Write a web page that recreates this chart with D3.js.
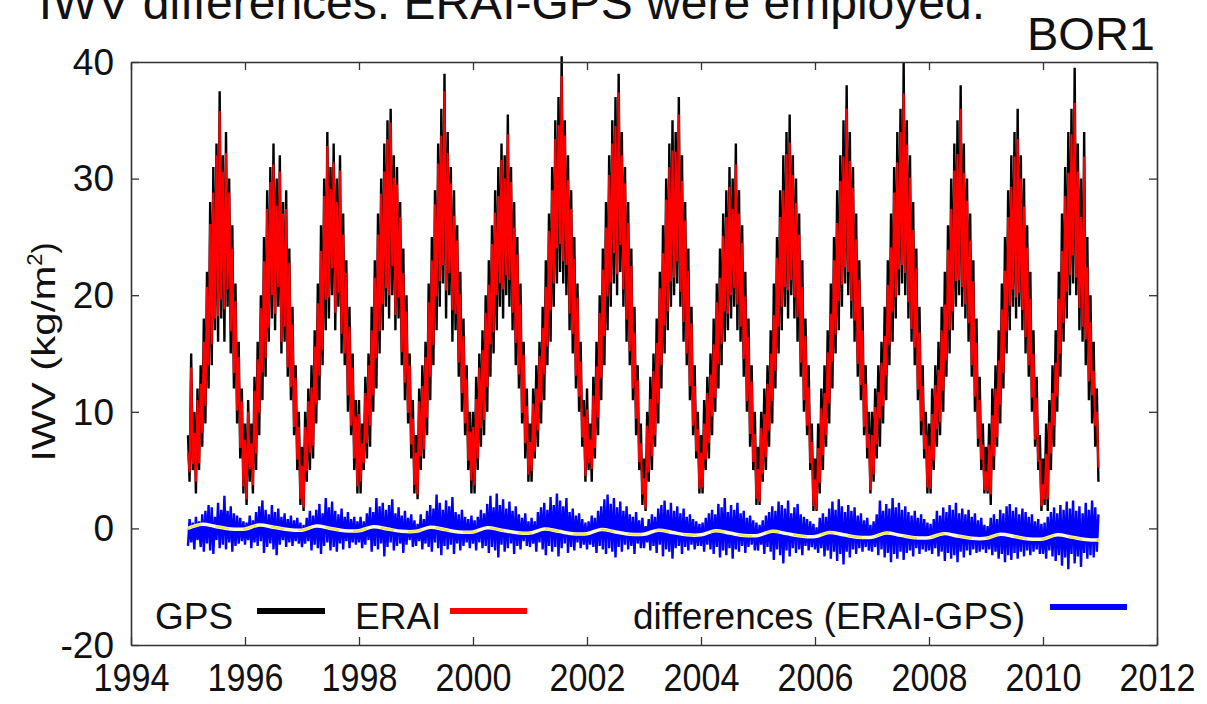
<!DOCTYPE html>
<html><head><meta charset="utf-8">
<script src="https://cdn.jsdelivr.net/npm/d3@7"></script>
<style>html,body{margin:0;padding:0;background:#fff;} text{font-family:"Liberation Sans",Arial,sans-serif;}</style>
</head><body>
<svg id="c" width="1207" height="704"></svg>
<script>
// ---- data ----
const startYear = 1995;
const samplesPerYear = 36; // ~10-day samples
const xTickYears = [1994,1996,1998,2000,2002,2004,2006,2008,2010,2012];
const yTickValues = [-10,0,10,20,30,40];
const yTickLabels = ["-20","0","10","20","30","40"];
const legendLabels = ["GPS","ERAI","differences (ERAI-GPS)"];

const gpsIWV = [
 8,4,15,5,10,3,12,5,14,7,18,9,22,12,28,14,31,17,33,16,37.5,18,32,16,34,19,30,15,26,12,21,9,16,6,12,3,
 9,2,11,4,9,3,13,5,16,8,20,11,25,13,29,16,31,18,33,17,30,19,32,15,28,16,29,13,24,11,19,8,14,5,10,2,
 7,1.5,10,4,12,5,14,6,17,9,21,11,26,14,30,17,34,18,31,20,33,17,30,19,32,15,27,14,23,10,19,8,15,5,11,3,
 11,3,9,5,13,6,15,7,19,10,23,12,27,15,30,17,33,19,35,18,36,20,32,17,31,18,28,14,24,11,20,9,15,6,11,3,
 8,2.5,12,5,14,6,16,8,21,11,25,14,29,17,33,19,36,21,39,18,34,20,31,16,29,17,26,13,22,10,18,8,14,5,10,3,
 10,3,13,5,15,7,17,8,20,10,23,13,26,15,29,17,31,19,33,18,32,20,35.5,19,31,17,28,14,25,12,21,9,16,6,12,4,
 9,4,12,6,14,7,16,9,19,11,23,14,27,16,31,19,35,21,37,22,40.5,21,35,20,32,17,29,15,25,12,21,10,16,7,11,4,
 12,5,9,4,13,6,16,8,20,11,24,14,28,17,32,19,35,21,37,20,39,22,34,19,31,16,28,14,24,11,19,8,14,5,9,2,
 6,1.5,10,4,13,5,15,7,18,9,22,12,26,15,30,17,33,19,35,20,34,21,37,19,32,16,28,14,24,11,19,8,14,6,10,3,
 8,3,11,5,13,6,15,8,18,10,21,12,24,14,27,16,29,17,31,18,30,19,33,17,29,16,26,13,22,10,18,7,14,5,10,2,
 7,2,10,4,12,5,14,7,17,9,21,12,25,15,29,17,32,19,34,18,35.5,20,32,18,30,16,27,13,23,10,18,8,14,5,9,1.5,
 6,1.5,9,3,12,5,14,7,17,9,21,12,25,15,29,17,32,19,35,21,38,20,34,18,31,16,27,13,23,11,19,8,14,6,10,3,
 10,4,12,6,14,7,16,9,19,11,23,14,27,16,31,18,34,20,36,21,40,20,35,18,32,16,28,14,24,11,19,8,14,6,10,3,
 9,3,12,5,14,7,16,8,19,10,22,13,26,15,30,17,33,19,35,20,38,19,33,18,30,16,27,13,23,10,18,7,13,5,9,3,
 7,3,9,2,12,5,14,7,17,9,21,12,25,15,29,17,32,19,34,18,36,19,32,17,30,15,26,13,22,10,17,7,13,5,8,1.5,
 6,2,9,1.5,11,5,14,7,17,10,22,13,27,16,31,18,34,20,36,21,39.5,20,33,17,30,16,34,14,25,11,20,9,16,7,12,4
];

const diffIWV = [
 -1.5,0.8,-1.2,0.5,-1.8,1.0,-1.0,0.6,-1.6,1.2,-2.0,1.5,-1.3,2.0,-1.9,1.8,-2.2,1.0,-1.0,2.2,-1.7,1.6,-1.4,2.8,-1.8,1.5,-1.2,1.9,-2.0,1.3,-1.5,1.1,-1.3,0.9,-1.1,0.6,
 -1.4,0.5,-1.0,1.1,-1.7,0.7,-1.2,1.4,-1.5,1.9,-1.1,2.4,-2.1,1.6,-1.6,1.2,-1.3,2.0,-1.8,1.4,-2.3,1.7,-1.4,1.0,-1.0,1.3,-1.6,0.8,-1.2,1.1,-1.5,0.7,-1.1,0.9,-1.3,0.5,
 -1.6,0.3,-1.3,0.9,-1.1,1.5,-1.9,1.1,-1.4,1.6,-1.7,2.1,-2.2,1.3,-1.5,2.6,-1.2,1.8,-1.9,2.3,-1.6,1.5,-2.0,1.2,-1.3,1.7,-1.8,1.0,-1.1,1.4,-1.7,0.8,-1.2,1.0,-1.4,0.6,
 -1.2,1.0,-1.7,0.6,-1.4,1.3,-1.0,1.8,-2.0,1.4,-1.5,2.6,-1.8,1.9,-1.3,2.2,-2.4,1.6,-1.6,2.0,-1.2,2.5,-1.9,1.3,-1.5,1.8,-1.3,1.1,-2.1,1.5,-1.4,0.9,-1.0,1.2,-1.6,0.7,
 -1.5,0.4,-1.1,1.2,-1.8,0.8,-1.3,1.5,-1.6,2.0,-2.0,1.7,-1.2,2.9,-1.7,2.2,-2.3,1.6,-1.5,2.4,-1.8,1.9,-1.4,2.7,-2.2,1.4,-1.3,1.2,-1.9,1.6,-1.5,1.0,-1.2,0.8,-1.7,1.1,
 -1.3,0.7,-1.9,1.0,-1.2,1.6,-1.7,1.3,-1.5,2.1,-2.1,2.8,-1.6,1.8,-1.9,3.0,-2.5,2.0,-1.4,2.5,-2.0,1.7,-1.7,2.3,-1.3,1.5,-2.2,1.9,-1.5,1.2,-1.8,0.9,-1.1,1.3,-1.5,0.6,
 -1.6,0.9,-1.3,0.6,-2.0,1.4,-1.2,1.8,-1.8,2.2,-2.3,1.6,-1.5,2.7,-2.0,2.0,-1.6,3.0,-2.4,2.4,-1.7,1.9,-1.3,2.6,-2.1,1.4,-1.6,1.7,-1.9,1.1,-1.2,1.3,-1.7,0.8,-1.4,0.5,
 -1.8,0.6,-1.4,1.1,-1.6,0.9,-2.1,1.5,-1.5,1.9,-1.8,2.5,-2.2,2.9,-1.7,2.1,-2.0,2.6,-2.5,1.8,-1.6,2.3,-2.0,1.5,-1.4,1.9,-1.8,1.2,-1.5,1.0,-2.2,1.4,-1.3,0.7,-1.7,0.9,
 -1.7,0.2,-1.2,0.8,-1.9,1.2,-1.5,1.0,-2.1,1.7,-1.4,2.0,-2.4,2.4,-1.8,1.6,-2.0,2.2,-2.6,1.5,-1.7,1.9,-1.5,1.3,-2.2,1.7,-1.6,1.0,-1.9,1.2,-1.4,0.8,-1.8,0.6,-1.5,0.4,
 -1.5,0.5,-2.0,0.9,-1.4,1.3,-1.8,1.6,-2.2,1.2,-1.6,2.1,-2.5,1.8,-1.9,2.6,-2.3,1.4,-1.7,2.0,-2.6,1.6,-1.8,2.2,-2.0,1.3,-1.5,1.5,-2.1,0.9,-1.6,1.1,-1.4,0.7,-1.9,0.5,
 -1.9,0.3,-1.4,0.7,-2.2,1.1,-1.6,1.4,-2.0,1.9,-2.7,1.5,-1.8,2.3,-2.3,2.0,-3.0,1.7,-1.9,2.4,-2.4,1.3,-1.7,1.8,-2.1,2.1,-1.8,1.2,-2.3,1.0,-1.5,0.8,-1.9,0.6,-1.6,0.4,
 -1.8,0.1,-2.1,0.9,-1.7,1.3,-2.4,1.0,-1.9,1.7,-2.6,2.3,-2.0,1.6,-2.8,2.5,-2.2,1.9,-3.1,1.4,-2.0,2.0,-2.5,1.5,-1.8,1.8,-2.2,1.1,-1.7,1.3,-2.0,0.7,-1.6,0.9,-1.9,0.3,
 -2.0,0.6,-1.6,1.2,-2.3,2.4,-1.8,1.5,-2.5,2.1,-2.1,1.7,-2.9,2.6,-2.2,1.8,-2.6,2.2,-2.0,1.6,-2.7,1.9,-2.1,1.4,-1.9,1.1,-2.4,1.5,-1.7,0.9,-2.2,1.2,-1.8,0.8,-2.0,0.5,
 -1.9,0.4,-2.2,0.8,-1.7,1.5,-2.4,1.1,-2.0,1.8,-2.8,1.4,-2.1,2.0,-2.6,1.6,-2.3,2.2,-2.9,1.3,-2.0,1.7,-2.5,1.2,-1.9,1.6,-2.3,1.0,-1.8,1.3,-2.1,0.7,-2.0,0.9,-1.8,0.3,
 -2.1,0.2,-1.8,0.9,-2.3,1.2,-2.0,0.8,-2.6,1.6,-2.2,1.3,-2.9,1.9,-2.3,2.1,-2.7,1.5,-2.1,1.8,-2.6,1.2,-2.0,1.7,-2.4,1.4,-1.9,1.0,-2.3,1.2,-2.0,0.6,-1.8,0.8,-2.2,0.4,
 -2.2,0.5,-2.6,1.0,-1.9,1.4,-2.4,1.8,-2.8,1.3,-2.3,2.0,-3.2,1.6,-2.5,2.3,-3.5,1.7,-2.2,2.4,-3.0,1.5,-2.4,1.9,-3.3,1.3,-2.1,2.2,-2.6,1.6,-2.3,2.4,-2.5,1.8,-2.0,1.2
];

// seasonal + trend fit of the differences, quarterly
const fitPerYear = 4;
const diffFit = [
 0.0,0.35,0.15,-0.05, -0.05,0.3,0.1,-0.1, -0.15,0.2,0.0,-0.2, -0.2,0.15,-0.05,-0.25,
 -0.25,0.1,-0.1,-0.3, -0.3,0.05,-0.15,-0.35, -0.4,-0.05,-0.25,-0.45, -0.45,-0.1,-0.3,-0.5,
 -0.5,-0.15,-0.35,-0.55, -0.55,-0.2,-0.4,-0.6, -0.6,-0.25,-0.45,-0.65, -0.7,-0.35,-0.55,-0.75,
 -0.75,-0.4,-0.6,-0.8, -0.8,-0.45,-0.65,-0.85, -0.85,-0.5,-0.7,-0.9, -0.9,-0.55,-0.75,-0.95, -1.0
];

// ERAI = GPS + (ERAI-GPS)
const eraIWV = gpsIWV.map((v,i)=>v + diffIWV[i]);

// ---- drawing ----
const svg = d3.select("#c");
const x = d3.scaleLinear().domain([1994,2012]).range([131,1157]);
const y = d3.scaleLinear().domain([-10,40]).range([645,62]);
const tOf = i => startYear + i/samplesPerYear;

// cut-off line of text above the figure
svg.append("text").attr("x",985).attr("y",19).attr("text-anchor","end")
  .attr("font-size",48).attr("fill","#111").text("IWV differences. ERAI-GPS were employed.");

// title
svg.append("text").attr("x",1155).attr("y",50).attr("text-anchor","end")
  .attr("font-size",47).attr("fill","#111").attr("textLength",128).attr("lengthAdjust","spacingAndGlyphs").text("BOR1");

const line = d3.line().x((d,i)=>x(tOf(i))).y(d=>y(d));

svg.append("path").datum(gpsIWV).attr("d",line).attr("fill","none")
  .attr("stroke","#000").attr("stroke-width",2.4);
svg.append("path").datum(eraIWV).attr("d",line).attr("fill","none")
  .attr("stroke","#ff0000").attr("stroke-width",2.1);
svg.append("path").datum(diffIWV).attr("d",line).attr("fill","none")
  .attr("stroke","#0000ff").attr("stroke-width",2.4);

const fitLine = d3.line().x((d,i)=>x(startYear + i/fitPerYear)).y(d=>y(d)).curve(d3.curveCardinal);
svg.append("path").datum(diffFit).attr("d",fitLine).attr("fill","none")
  .attr("stroke","#fffbd0").attr("stroke-width",3.5);
svg.append("path").datum(diffFit).attr("d",fitLine).attr("fill","none")
  .attr("stroke","#f2ea40").attr("stroke-width",2).attr("stroke-dasharray","14,14");

// axes (ticks inside, on all four sides)
const fmt = d => yTickLabels[yTickValues.indexOf(d)];
const gL = svg.append("g").attr("transform","translate(131,0)")
  .call(d3.axisLeft(y).tickValues(yTickValues).tickFormat(fmt).tickSizeInner(-8).tickSizeOuter(0).tickPadding(17));
const gR = svg.append("g").attr("transform","translate(1157,0)")
  .call(d3.axisRight(y).tickValues(yTickValues).tickFormat("").tickSizeInner(-8).tickSizeOuter(0));
const gB = svg.append("g").attr("transform","translate(0,645)")
  .call(d3.axisBottom(x).tickValues(xTickYears).tickFormat(d3.format("d")).tickSizeInner(-8).tickSizeOuter(0).tickPadding(16));
const gT = svg.append("g").attr("transform","translate(0,62)")
  .call(d3.axisTop(x).tickValues(xTickYears).tickFormat("").tickSizeInner(-8).tickSizeOuter(0));
[gL,gR,gB,gT].forEach(g=>{
  g.selectAll(".domain").attr("stroke","#333").attr("stroke-width",1.6);
  g.selectAll(".tick line").attr("stroke","#333").attr("stroke-width",1.3);
  g.selectAll("text").attr("fill","#111").attr("font-family","Liberation Sans, Arial, sans-serif");
});
gL.selectAll("text").attr("font-size",37).attr("dy","0.33em");
gB.selectAll("text").attr("font-size",38).attr("dy","0.8em")
  .attr("textLength",76).attr("lengthAdjust","spacingAndGlyphs");

// y axis title
const yt = svg.append("text").attr("transform","translate(55,352) rotate(-90)")
  .attr("text-anchor","middle").attr("font-size",33).attr("fill","#111");
yt.append("tspan").attr("textLength",196).attr("lengthAdjust","spacingAndGlyphs").text("IWV (kg/m");
yt.append("tspan").attr("font-size",22).attr("dy",-13).text("2");
yt.append("tspan").attr("dy",13).text(")");

// legend
const legendColors = ["#000","#ff0000","#0000ff"];
const legendTextX = [155,355,633];
const legendLineX = [[257,325],[450,527],[1050,1127]];
legendLabels.forEach((lab,i)=>{
  svg.append("text").attr("x",legendTextX[i]).attr("y",629).attr("font-size",37).attr("fill","#111").text(lab);
  svg.append("line").attr("x1",legendLineX[i][0]).attr("x2",legendLineX[i][1])
    .attr("y1",i===2?607:611).attr("y2",i===2?607:611)
    .attr("stroke",legendColors[i]).attr("stroke-width",6);
});
</script>
</body></html>
